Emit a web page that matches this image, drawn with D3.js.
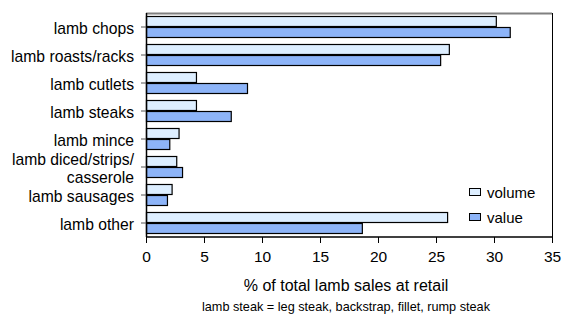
<!DOCTYPE html>
<html>
<head>
<meta charset="utf-8">
<script src="https://cdn.jsdelivr.net/npm/d3@7"></script>
<style>
  body { margin: 0; background: #fff; }
  text { font-family: "Liberation Sans", Arial, sans-serif; fill: #000; }
</style>
</head>
<body>
<div id="chart"></div>
<script>
const width = 563
const height = 315
const margin = { top: 13, bottom: 78, left: 146, right: 11 }

// Datos
const categories = ["lamb chops", "lamb roasts/racks", "lamb cutlets", "lamb steaks",
  "lamb mince", "lamb diced/strips/\ncasserole", "lamb sausages", "lamb other"]
const volume = [30.2, 26.15, 4.35, 4.35, 2.85, 2.65, 2.25, 26.0]
const value = [31.4, 25.4, 8.75, 7.35, 2.05, 3.15, 1.85, 18.65]
const series = ["volume", "value"]
const colors = { volume: "#ddeeff", value: "#8db4f8" }
const xTicks = [0, 5, 10, 15, 20, 25, 30, 35]

const innerW = width - margin.left - margin.right
const innerH = height - margin.top - margin.bottom

const svg = d3.select("#chart").append("svg")
  .attr("width", width)
  .attr("height", height)

const g = svg.append("g")
  .attr("transform", `translate(${margin.left}, ${margin.top})`)

// Escalas
const x = d3.scaleLinear().domain([0, 35]).range([0, innerW])
const y = d3.scaleBand().domain(categories).range([0, innerH]).paddingInner(6 / 28).paddingOuter(3 / 28)
const ySub = d3.scaleBand().domain(series).range([0, y.bandwidth()])

// marco
g.append("line").attr("x1", 0).attr("x2", innerW).attr("y1", 0.5).attr("y2", 0.5)
  .attr("stroke", "#808080").attr("stroke-width", 2)
g.append("line").attr("x1", innerW + 0.5).attr("x2", innerW + 0.5).attr("y1", 0).attr("y2", innerH)
  .attr("stroke", "#000").attr("stroke-width", 1)

// barras
const rows = categories.map((c, i) => ({ cat: c, volume: volume[i], value: value[i] }))
const groups = g.selectAll(".cat").data(rows).join("g")
  .attr("class", "cat")
  .attr("transform", d => `translate(0, ${y(d.cat)})`)

groups.selectAll("rect").data(d => series.map(s => ({ s, v: d[s] }))).join("rect")
  .attr("x", 0.5)
  .attr("y", d => ySub(d.s) + 0.5)
  .attr("width", d => x(d.v) - 0.5)
  .attr("height", ySub.bandwidth() - 1)
  .attr("fill", d => colors[d.s])
  .attr("stroke", "#000")
  .attr("stroke-width", 1.2)

// ejes
const xAxis = d3.axisBottom(x).tickValues(xTicks).tickSize(6).tickPadding(8)
const xg = g.append("g").attr("transform", `translate(0, ${innerH})`).call(xAxis)
xg.select(".domain").attr("stroke", "#000").attr("d", `M0.5,0H${innerW + 0.5}`).attr("stroke-width", 1.5)
xg.selectAll(".tick line").attr("stroke", "#000")
xg.selectAll(".tick text").attr("font-size", 15.5).attr("font-family", "Liberation Sans, Arial, sans-serif")

const yAxis = d3.axisLeft(y).tickSize(5).tickPadding(6).tickFormat("")
const yg = g.append("g").call(yAxis)
yg.select(".domain").attr("stroke", "#000").attr("d", `M0.5,0V${innerH}`).attr("stroke-width", 1.5)
yg.selectAll(".tick line").attr("stroke", "#555")

// etiquetas de categoría (multilínea)
yg.selectAll(".tick").append("text")
  .attr("x", -12)
  .attr("text-anchor", "end")
  .attr("font-size", 15.7)
  .attr("fill", "#000")
  .attr("font-family", "Liberation Sans, Arial, sans-serif")
  .each(function(d) {
    const lines = d.split("\n")
    const t = d3.select(this)
    lines.forEach((l, i) => {
      t.append("tspan").attr("x", -12)
        .attr("y", (i - (lines.length - 1) / 2) * 19 + 1.5)
        .attr("dy", "0.35em").text(l)
    })
  })

// títulos
svg.append("text").attr("x", margin.left + innerW / 2 - 3).attr("y", 285).attr("dy", "0.35em")
  .attr("text-anchor", "middle").attr("font-size", 16)
  .text("% of total lamb sales at retail")
svg.append("text").attr("x", margin.left + innerW / 2 - 3).attr("y", 306.5).attr("dy", "0.35em")
  .attr("text-anchor", "middle").attr("font-size", 12.7)
  .text("lamb steak = leg steak, backstrap, fillet, rump steak")

// leyenda
const legend = svg.append("g").attr("transform", "translate(469, 188)")
series.forEach((s, i) => {
  const lg = legend.append("g").attr("transform", `translate(0, ${i * 25})`)
  lg.append("rect").attr("x", 0.5).attr("y", 0.5).attr("width", 11).attr("height", 7)
    .attr("fill", colors[s]).attr("stroke", "#000")
  lg.append("text").attr("x", 18).attr("y", 5).attr("dy", "0.35em")
    .attr("font-size", 15).text(s)
})
</script>
</body>
</html>
